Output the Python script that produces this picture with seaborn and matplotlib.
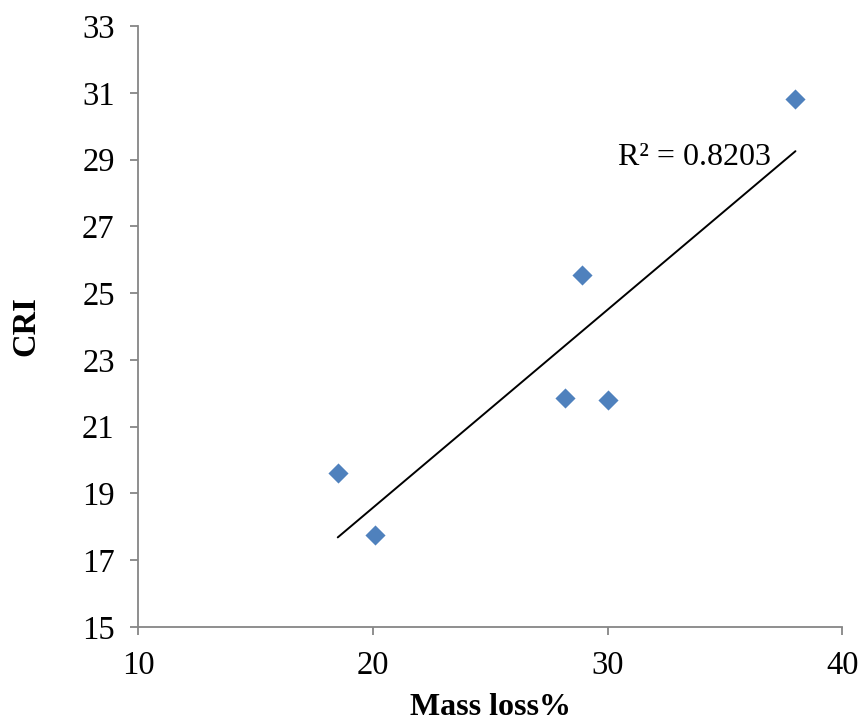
import matplotlib
matplotlib.use("Agg")
import matplotlib.pyplot as plt
import seaborn as sns
import numpy as np
import pandas as pd

# Sample measurements
mass_loss = [18.5, 20.1, 28.2, 28.9, 30.0, 38.0]
cri = [19.6, 17.75, 21.85, 25.55, 21.8, 30.8]
r2_label = "R² = 0.8203"

x_ticks = [10, 20, 30, 40]
y_ticks = [15, 17, 19, 21, 23, 25, 27, 29, 31, 33]

df = pd.DataFrame({"Mass loss%": mass_loss, "CRI": cri})

sns.set_style("white")
plt.rcParams["font.family"] = ["Liberation Serif", "DejaVu Serif"]
plt.rcParams["text.color"] = "black"
plt.rcParams["axes.labelcolor"] = "black"
plt.rcParams["xtick.color"] = "black"
plt.rcParams["ytick.color"] = "black"

fig = plt.figure(figsize=(8.64, 7.23), dpi=100)
ax = fig.add_axes([0.16, 0.133, 0.815, 0.831])

# Linear trend line over the data range
sns.regplot(data=df, x="Mass loss%", y="CRI", ax=ax, ci=None, scatter=False,
            truncate=True, line_kws={"color": "black", "linewidth": 1.4})

sns.scatterplot(data=df, x="Mass loss%", y="CRI", ax=ax, marker="D", s=105,
                color="#4F81BD", linewidth=0, zorder=3)

ax.text(30.45, 28.83, r2_label, fontsize=23, ha="left", va="baseline",
        color="black")

ax.set_xlim(10, 40)
ax.set_ylim(15, 33)
ax.set_xticks(x_ticks)
ax.set_yticks(y_ticks)
ax.tick_params(axis="both", which="major", bottom=True, left=True,
               labelsize=23.5, direction="out", length=6, width=1.3,
               color="#868686", labelcolor="black", pad=11)
for side in ["top", "right"]:
    ax.spines[side].set_visible(False)
for side in ["left", "bottom"]:
    ax.spines[side].set_color("#868686")
    ax.spines[side].set_linewidth(1.3)

ax.set_xlabel("Mass loss%", fontsize=23, fontweight="bold", labelpad=9)
ax.set_ylabel("CRI", fontsize=23.5, fontweight="bold", labelpad=29)

fig.savefig("out.png", dpi=100)
